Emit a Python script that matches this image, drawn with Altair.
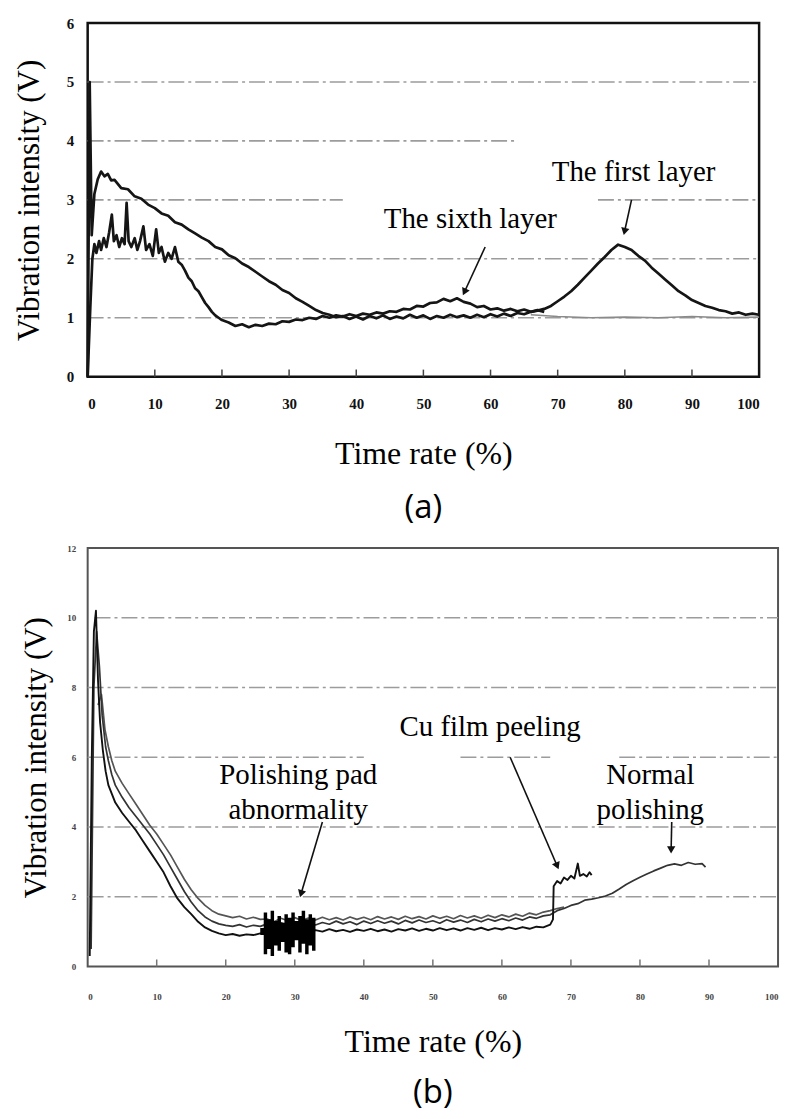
import math
import altair as alt
import pandas as pd

# ------------------------------------------------------------------ data (a)
first_x = [0, 0.3, 0.6, 1.0, 1.5, 2.0, 2.5, 3.0, 3.5, 4, 5, 6, 7, 8, 9, 10, 11, 12, 13, 14, 15,
           16, 17, 18, 19, 20, 21, 22, 23, 24, 25, 26, 27, 28, 29, 30, 31, 32, 33, 34, 35,
           36, 37, 38, 39, 40, 41, 42, 43, 44, 45, 46, 47, 48, 49, 50, 51, 52, 53, 54, 55,
           56, 57, 58, 59, 60, 61, 62, 63, 64, 65, 66, 67, 68, 69, 70, 71, 72, 73, 74, 75,
           76, 77, 78, 79, 80, 81, 82, 83, 84, 85, 86, 87, 88, 89, 90, 91, 92, 93, 94, 95,
           96, 97, 98, 99, 100]
first_y = [0.0, 5.0, 2.4, 3.1, 3.35, 3.48, 3.4, 3.44, 3.33, 3.34, 3.2, 3.18, 3.06, 3.02, 2.92, 2.86,
           2.77, 2.73, 2.62, 2.58, 2.5, 2.43, 2.36, 2.3, 2.2, 2.16, 2.06, 2.01, 1.92, 1.86, 1.78,
           1.7, 1.62, 1.56, 1.47, 1.42, 1.33, 1.27, 1.2, 1.13, 1.08, 1.05, 1.01, 1.03, 0.98, 1.02,
           0.97, 1.03, 0.99, 1.04, 0.98, 1.02, 0.99, 1.05, 1.0, 1.04, 0.98, 1.03, 1.0, 1.05, 1.01,
           1.04, 1.0, 1.05, 1.01, 1.06, 1.02, 1.07, 1.03, 1.08, 1.06, 1.1, 1.12, 1.15, 1.2, 1.28,
           1.36, 1.45, 1.56, 1.68, 1.8, 1.92, 2.03, 2.15, 2.24, 2.2, 2.15, 2.05, 1.97, 1.85, 1.75,
           1.65, 1.55, 1.45, 1.38, 1.3, 1.25, 1.2, 1.17, 1.13, 1.11, 1.07, 1.09, 1.05, 1.07, 1.05]

sixth_x = [0, 0.4, 0.7, 1.0, 1.3, 1.7, 2.0, 2.4, 2.8, 3.2, 3.6, 3.9, 4.3, 4.7, 5.1, 5.5, 5.8, 6.1,
           6.5, 7.0, 7.4, 7.8, 8.3, 8.7, 9.2, 9.7, 10.2, 10.6, 11.0, 11.5, 12.0, 12.5, 13.0, 13.5,
           14.0, 14.5, 15, 15.5, 16, 16.5, 17, 17.5, 18, 18.5, 19, 19.5, 20, 21, 22, 23, 24, 25,
           26, 27, 28, 29, 30, 31, 32, 33, 34, 35, 36, 37, 38, 39, 40, 41, 42, 43, 44, 45, 46,
           47, 48, 49, 50, 51, 52, 53, 54, 55, 56, 57, 58, 59, 60, 61, 62, 63, 64, 65, 66, 67, 68]
sixth_y = [0.0, 1.2, 2.0, 2.25, 2.1, 2.3, 2.15, 2.35, 2.2, 2.45, 2.75, 2.3, 2.4, 2.2, 2.35, 2.25,
           2.95, 2.3, 2.2, 2.35, 2.15, 2.3, 2.55, 2.15, 2.25, 2.05, 2.5, 2.1, 2.2, 1.95, 2.1, 2.0,
           2.2, 1.95, 1.9, 1.8, 1.68, 1.62, 1.5, 1.45, 1.35, 1.25, 1.18, 1.1, 1.04, 1.0, 0.96,
           0.92, 0.86, 0.89, 0.84, 0.88, 0.86, 0.9, 0.89, 0.94, 0.93, 0.97, 0.96, 1.0, 0.98, 1.03,
           1.0, 1.04, 1.02, 1.06, 1.03, 1.07, 1.05, 1.09, 1.07, 1.11, 1.1, 1.15, 1.14, 1.2, 1.19,
           1.25, 1.26, 1.32, 1.28, 1.33, 1.27, 1.24, 1.18, 1.2, 1.14, 1.16, 1.12, 1.15, 1.11, 1.14,
           1.1, 1.13, 1.1]

tail_x = [66, 70, 75, 80, 85, 90, 95, 100]
tail_y = [1.05, 1.02, 1.0, 1.01, 1.0, 1.02, 1.0, 1.01]

# ------------------------------------------------------------------ data (b)
b1_x = [0.3, 0.6, 0.9, 1.2, 1.5, 1.8, 2.2, 2.6, 3, 3.5, 4, 5, 6, 7, 8, 9, 10, 11, 12, 13, 14,
        15, 16, 17, 18, 19, 20, 21, 22, 23, 24, 25, 26, 27, 28, 29, 30, 31, 32, 33, 34, 35, 36,
        37, 38, 39, 40, 41, 42, 43, 44, 45, 46, 47, 48, 49, 50, 51, 52, 53, 54, 55, 56, 57, 58,
        59, 60, 61, 62, 63, 64, 65, 66, 67, 67.4, 67.5, 68, 68.5, 69, 69.5, 70, 70.5, 71, 71.3,
        71.8, 72.3, 72.7, 73]
b1_y = [0.3, 6.0, 9.6, 10.2, 8.2, 7.0, 6.2, 5.6, 5.2, 4.95, 4.7, 4.4, 4.15, 3.9, 3.6, 3.3, 3.0,
        2.7, 2.3, 1.95, 1.7, 1.5, 1.28, 1.12, 1.02, 0.95, 0.9, 0.93, 0.88, 0.92, 0.9, 0.95, 0.98,
        1.03, 0.97, 1.05, 1.0, 1.06, 0.99, 1.04, 1.0, 1.07, 1.01, 1.05, 0.99, 1.06, 1.02, 1.08,
        1.01, 1.06, 1.0, 1.07, 1.03, 1.09, 1.02, 1.08, 1.03, 1.1, 1.04, 1.09, 1.03, 1.1, 1.05,
        1.11, 1.04, 1.1, 1.06, 1.12, 1.07, 1.13, 1.08, 1.14, 1.12, 1.2, 1.35, 2.3, 2.45, 2.38,
        2.55, 2.48, 2.6, 2.52, 2.95, 2.6, 2.65, 2.58, 2.7, 2.62]

b2_x = [0.5, 0.9, 1.3, 1.7, 2.1, 2.6, 3, 3.5, 4, 5, 6, 7, 8, 9, 10, 11, 12, 13, 14, 15, 16, 17,
        18, 19, 20, 21, 22, 23, 24, 25, 26, 27, 28, 29, 30, 31, 32, 33, 34, 35, 36, 37, 38, 39,
        40, 41, 42, 43, 44, 45, 46, 47, 48, 49, 50, 51, 52, 53, 54, 55, 56, 57, 58, 59, 60, 61,
        62, 63, 64, 65, 66, 67, 68, 69, 70, 71, 72, 73, 74, 75, 76, 77, 78, 79, 80, 81, 82, 83,
        84, 85, 86, 87, 88, 89, 89.5]
b2_y = [0.5, 8.0, 9.6, 8.6, 7.2, 6.3, 5.9, 5.5, 5.2, 4.85, 4.55, 4.3, 4.05, 3.8, 3.5, 3.2, 2.85,
        2.5, 2.15, 1.85, 1.6, 1.42, 1.3, 1.22, 1.18, 1.15, 1.2, 1.13, 1.18, 1.15, 1.22, 1.15,
        1.25, 1.18, 1.27, 1.2, 1.28, 1.19, 1.26, 1.21, 1.3, 1.22, 1.28, 1.2, 1.3, 1.23, 1.31,
        1.24, 1.3, 1.22, 1.32, 1.25, 1.33, 1.26, 1.31, 1.24, 1.34, 1.27, 1.33, 1.26, 1.35, 1.28,
        1.36, 1.3, 1.37, 1.31, 1.39, 1.33, 1.42, 1.38, 1.45, 1.48, 1.6, 1.66, 1.75, 1.8, 1.9,
        1.93, 1.97, 2.02, 2.1, 2.22, 2.35, 2.46, 2.56, 2.65, 2.74, 2.82, 2.9, 2.94, 2.9, 2.98,
        2.93, 2.95, 2.85]

b3_x = [1.5, 2, 2.5, 3, 3.5, 4, 5, 6, 7, 8, 9, 10, 11, 12, 13, 14, 15, 16, 17, 18, 19, 20, 21,
        22, 23, 24, 25, 26, 27, 28, 29, 30, 31, 32, 33, 34, 35, 36, 37, 38, 39, 40, 41, 42, 43,
        44, 45, 46, 47, 48, 49, 50, 51, 52, 53, 54, 55, 56, 57, 58, 59, 60, 61, 62, 63, 64, 65,
        66, 67, 68, 69]
b3_y = [7.5, 7.8, 6.8, 6.3, 5.9, 5.6, 5.25, 4.95, 4.65, 4.35, 4.05, 3.8, 3.5, 3.2, 2.85, 2.5,
        2.2, 1.95, 1.75, 1.6, 1.5, 1.45, 1.4, 1.44, 1.36, 1.41, 1.35, 1.36, 1.28, 1.38, 1.31,
        1.4, 1.32, 1.39, 1.33, 1.41, 1.34, 1.4, 1.33, 1.42, 1.35, 1.41, 1.34, 1.43, 1.36, 1.42,
        1.35, 1.44, 1.37, 1.43, 1.36, 1.45, 1.38, 1.44, 1.37, 1.46, 1.39, 1.45, 1.38, 1.47, 1.4,
        1.48, 1.42, 1.5, 1.44, 1.53, 1.48, 1.56, 1.6, 1.66, 1.7]

block_x = [25.0, 25.5, 26, 26.5, 27, 27.5, 28, 28.5, 29, 29.5, 30, 30.5, 31, 31.5, 32, 32.5, 33]
block_lo = [0.9, 0.35, 0.5, 0.3, 0.6, 0.45, 0.7, 0.4, 0.35, 0.55, 0.75, 0.4, 0.65, 0.35, 0.6, 0.45, 0.9]
block_hi = [1.1, 1.55, 1.35, 1.6, 1.3, 1.45, 1.25, 1.5, 1.4, 1.55, 1.3, 1.45, 1.6, 1.35, 1.5, 1.4, 1.2]

# tick labels
ticks_x = list(range(0, 101, 10))
ticks_a = list(range(0, 7))
ticks_b = list(range(0, 13, 2))
inner_ticks = list(range(10, 100, 10))

# gridline segments: (value, from %, to %)
grid_a = [(1, 0, 100), (2, 0, 100), (3, 0, 38), (3, 76, 100), (4, 0, 64), (5, 0, 100)]
grid_b = [(2, 0, 100), (4, 0, 100), (6, 0, 40), (6, 54, 67), (6, 77, 100), (8, 0, 100), (10, 1, 100)]

# annotations: text, x, y
labels_a = [("The first layer", 81.3, 3.48), ("The sixth layer", 57.0, 2.67)]
labels_b = [("Cu film peeling", 58.3, 6.86), ("Polishing pad", 30.5, 5.5), ("abnormality", 30.5, 4.48),
            ("Normal", 81.5, 5.5), ("polishing", 81.5, 4.48)]
# arrows: start x, start y, tip x, tip y
arrows_a = [(81.0, 3.0, 79.8, 2.38), (59.2, 2.2, 55.8, 1.36)]
arrows_b = [(61.2, 6.0, 68.3, 2.75), (34.0, 4.14, 30.7, 1.95), (84.6, 4.14, 84.5, 3.2)]

# ------------------------------------------------------------------ helpers
SERIF = "Liberation Serif"
W1, H1, YMAX1 = 674, 355, 6
W2, H2, YMAX2 = 689, 420, 12


def line_layer(xs, ys, xsc, ysc, color, width):
    df = pd.DataFrame({"x": xs, "y": ys, "o": list(range(len(xs)))})
    return alt.Chart(df).mark_line(color=color, strokeWidth=width, strokeJoin="round").encode(
        x=alt.X("x:Q", scale=xsc), y=alt.Y("y:Q", scale=ysc), order="o:Q")


def grid_layer(segs, xsc, ysc, color, width):
    df = pd.DataFrame(segs, columns=["v", "a", "b"])
    return alt.Chart(df).mark_rule(color=color, strokeWidth=width, strokeDash=[16, 4, 3, 4]).encode(
        x=alt.X("a:Q", scale=xsc), x2="b:Q", y=alt.Y("v:Q", scale=ysc))


def tick_layer(xs, length, xsc, ysc, color):
    df = pd.DataFrame({"x": xs, "y0": [0] * len(xs), "y1": [length] * len(xs)})
    return alt.Chart(df).mark_rule(color=color, strokeWidth=1.5).encode(
        x=alt.X("x:Q", scale=xsc), y=alt.Y("y0:Q", scale=ysc), y2="y1:Q")


def text_layer(items, xsc, ysc, size):
    df = pd.DataFrame(items, columns=["t", "x", "y"])
    return alt.Chart(df).mark_text(font=SERIF, fontSize=size, color="black", align="center",
                                   baseline="middle").encode(
        x=alt.X("x:Q", scale=xsc), y=alt.Y("y:Q", scale=ysc), text="t:N")


def arrow_layers(items, xsc, ysc, w, h, ymax):
    rows_l, rows_h = [], []
    for sx, sy, tx, ty in items:
        dxp = (tx - sx) * w / 100.0
        dyp = -(ty - sy) * h / ymax
        ln = math.hypot(dxp, dyp)
        ux, uy = dxp / ln, dyp / ln
        back = 5.0
        cx = tx - ux * back * 100.0 / w
        cy = ty + uy * back * ymax / h
        ang = math.degrees(math.atan2(-ux, uy)) % 360
        rows_l.append({"x": sx, "y": sy, "x2": cx, "y2": cy})
        rows_h.append({"x": cx, "y": cy, "a": ang})
    lines = alt.Chart(pd.DataFrame(rows_l)).mark_rule(color="#111", strokeWidth=1.6).encode(
        x=alt.X("x:Q", scale=xsc), y=alt.Y("y:Q", scale=ysc), x2="x2:Q", y2="y2:Q")
    heads = alt.Chart(pd.DataFrame(rows_h)).mark_point(
        shape="triangle-down", filled=True, color="#111", size=70, opacity=1).encode(
        x=alt.X("x:Q", scale=xsc), y=alt.Y("y:Q", scale=ysc), angle=alt.Angle("a:Q", scale=None))
    return [lines, heads]


def axis_x(label_size, label_color, label_pad, title_pad):
    return alt.Axis(values=ticks_x, format="d", title="Time rate (%)", grid=False, ticks=False,
                    domain=False, labelFont=SERIF, labelFontWeight="bold", labelFontSize=label_size,
                    labelColor=label_color, labelPadding=label_pad, titleFont=SERIF, titleFontSize=32,
                    titleFontWeight="normal", titleColor="black", titlePadding=title_pad)


def axis_y(values, label_size, label_color, label_pad, title_pad):
    return alt.Axis(values=values, format="d", title="Vibration intensity (V)", grid=False, ticks=False,
                    domain=False, labelFont=SERIF, labelFontWeight="bold", labelFontSize=label_size,
                    labelColor=label_color, labelPadding=label_pad, titleFont=SERIF, titleFontSize=31,
                    titleFontWeight="normal", titleColor="black", titlePadding=title_pad)


# ------------------------------------------------------------------ panel (a)
xs1 = alt.Scale(domain=[0, 100], nice=False, zero=False)
ys1 = alt.Scale(domain=[0, YMAX1], nice=False)

base_a = alt.Chart(pd.DataFrame({"x": [0], "y": [0]})).mark_point(opacity=0).encode(
    x=alt.X("x:Q", scale=xs1, axis=axis_x(15, "#111", 20, 27)),
    y=alt.Y("y:Q", scale=ys1, axis=axis_y(ticks_a, 15, "#111", 14, 21)))

panel_a = alt.layer(
    base_a,
    grid_layer(grid_a, xs1, ys1, "#9c9c9c", 1.6),
    tick_layer(inner_ticks, 0.12, xs1, ys1, "#444"),
    line_layer(tail_x, tail_y, xs1, ys1, "#8a8a8a", 1.6),
    line_layer(sixth_x, sixth_y, xs1, ys1, "#151515", 2.7),
    line_layer(first_x, first_y, xs1, ys1, "#151515", 2.7),
    text_layer(labels_a, xs1, ys1, 29),
    *arrow_layers(arrows_a, xs1, ys1, W1, H1, YMAX1),
).properties(
    width=W1, height=H1,
    title=alt.TitleParams("(a)", orient="bottom", font="Open Sans", fontSize=33, fontWeight="normal",
                          color="black", offset=23, anchor="middle"),
    view=alt.ViewBackground(stroke="#111", strokeWidth=2.5),
)

# ------------------------------------------------------------------ panel (b)
xs2 = alt.Scale(domain=[0, 100], nice=False, zero=False)
ys2 = alt.Scale(domain=[0, YMAX2], nice=False)

base_b = alt.Chart(pd.DataFrame({"x": [0], "y": [0]})).mark_point(opacity=0).encode(
    x=alt.X("x:Q", scale=xs2, axis=axis_x(9, "#444", 26, 25)),
    y=alt.Y("y:Q", scale=ys2, axis=axis_y(ticks_b, 9, "#444", 12, 14)))

block_df = pd.DataFrame({"x": block_x, "lo": block_lo, "hi": block_hi})
block = alt.Chart(block_df).mark_area(color="#000", opacity=1, interpolate="step-after").encode(
    x=alt.X("x:Q", scale=xs2), y=alt.Y("lo:Q", scale=ys2), y2="hi:Q")

panel_b = alt.layer(
    base_b,
    grid_layer(grid_b, xs2, ys2, "#9c9c9c", 1.6),
    tick_layer(inner_ticks, 0.2, xs2, ys2, "#777"),
    line_layer(b3_x, b3_y, xs2, ys2, "#555", 1.7),
    line_layer(b2_x, b2_y, xs2, ys2, "#333", 1.7),
    line_layer(b1_x, b1_y, xs2, ys2, "#111", 1.9),
    block,
    text_layer(labels_b, xs2, ys2, 29),
    *arrow_layers(arrows_b, xs2, ys2, W2, H2, YMAX2),
).properties(
    width=W2 + 4, height=H2,
    title=alt.TitleParams("(b)", orient="bottom", font="Open Sans", fontSize=33, fontWeight="normal",
                          color="black", offset=20, anchor="middle"),
    view=alt.ViewBackground(stroke="#555", strokeWidth=2),
)

chart = alt.vconcat(panel_a, panel_b, spacing=16).properties(
    padding={"left": 12, "top": 12, "right": 8, "bottom": 2},
    background="white",
)

chart.save("out.html", embed_options={"renderer": "svg", "actions": False})
